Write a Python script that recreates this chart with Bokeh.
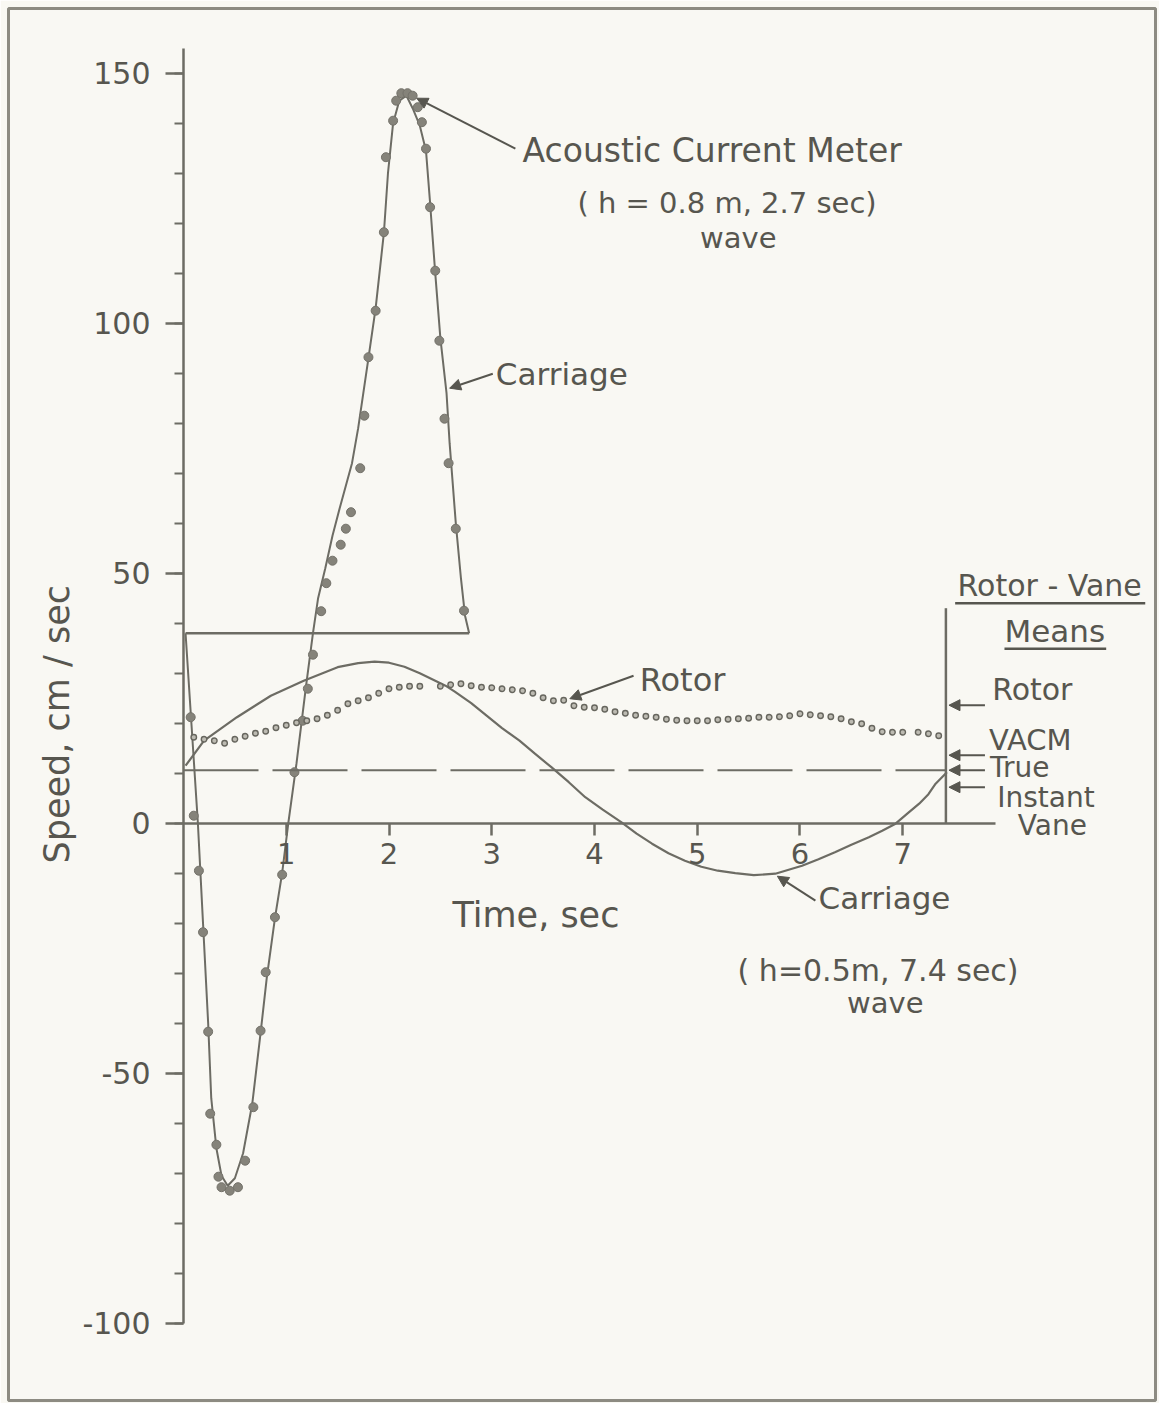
import numpy as np
from bokeh.plotting import figure
from bokeh.models import Range1d, LinearAxis, FixedTicker, Arrow, NormalHead, Label
from bokeh.embed import file_html
from bokeh.resources import INLINE

# ---------------- data ----------------
# Acoustic current meter samples, h = 0.8 m, 2.7 s wave (time s, speed cm/s)
acm_t = [0.07, 0.10, 0.15, 0.19, 0.24, 0.26, 0.32, 0.34, 0.37, 0.45, 0.53, 0.60,
         0.68, 0.75, 0.80, 0.89, 0.96, 1.08, 1.16, 1.21, 1.26, 1.34, 1.39, 1.45,
         1.53, 1.58, 1.63, 1.72, 1.76, 1.80, 1.87, 1.95, 1.97, 2.04, 2.07, 2.12,
         2.18, 2.23, 2.28, 2.32, 2.36, 2.40, 2.45, 2.49, 2.54, 2.58, 2.65, 2.73]
acm_v = [21.2, 1.5, -9.5, -21.8, -41.7, -58.1, -64.3, -70.7, -72.8, -73.5, -72.8, -67.5,
         -56.8, -41.5, -29.8, -18.8, -10.3, 10.2, 20.5, 26.9, 33.7, 42.4, 48.0, 52.5,
         55.7, 58.9, 62.2, 71.0, 81.5, 93.2, 102.5, 118.2, 133.2, 140.5, 144.5, 146.0,
         146.0, 145.5, 143.2, 140.2, 134.9, 123.2, 110.5, 96.5, 80.9, 72.0, 58.9, 42.5]

# Carriage speed, 2.7 s wave (solid curve)
car27_t = [0.02, 0.14, 0.19, 0.24, 0.27, 0.32, 0.37, 0.43, 0.50, 0.58, 0.67, 0.75,
           0.81, 0.89, 0.96, 1.02, 1.10, 1.19, 1.26, 1.31, 1.38, 1.45, 1.52, 1.58,
           1.64, 1.70, 1.75, 1.80, 1.87, 1.95, 1.99, 2.04, 2.10, 2.17, 2.23, 2.30,
           2.36, 2.40, 2.45, 2.50, 2.56, 2.59, 2.62, 2.65, 2.70, 2.74, 2.78]
car27_v = [38, 0, -20, -40, -55, -65, -70.5, -72.5, -71, -66, -56, -42,
           -31, -19, -10, 0, 12, 27, 38, 45, 51, 57.5, 63, 67.5,
           72, 79, 86, 93, 103, 118, 130, 140, 144.5, 145.5, 143, 139.5,
           134.5, 124, 110, 97, 86, 76, 68, 60, 49, 41.5, 38]
car27_base = 38.0
car27_end = 2.78

# Carriage speed, h = 0.5 m, 7.4 s wave (solid curve)
car74_t = [0.02, 0.20, 0.52, 0.85, 1.17, 1.50, 1.70, 1.86, 2.00, 2.15, 2.30, 2.45,
           2.55, 2.64, 2.80, 2.95, 3.10, 3.27, 3.42, 3.58, 3.75, 3.91, 4.08, 4.26,
           4.41, 4.56, 4.72, 4.88, 5.04, 5.20, 5.37, 5.55, 5.76, 6.02, 6.18, 6.34,
           6.50, 6.67, 6.80, 6.93, 7.05, 7.16, 7.25, 7.32, 7.43]
car74_v = [11.5, 16.5, 21.2, 25.5, 28.5, 31.2, 32.0, 32.3, 32.1, 31.3, 30.0, 28.5,
           27.5, 26.3, 24.0, 21.5, 19.0, 16.5, 13.9, 11.2, 8.2, 5.2, 2.7, 0.2,
           -2.1, -4.1, -6.0, -7.5, -8.7, -9.5, -10.0, -10.4, -10.1, -8.5, -7.2, -5.8,
           -4.3, -2.8, -1.5, -0.1, 2.0, 3.9, 5.8, 7.9, 10.2]

# Rotor speed (dotted)
rotor_t = [0.1, 0.2, 0.3, 0.4, 0.5, 0.6, 0.7, 0.8, 0.9, 1.0, 1.1, 1.2, 1.3, 1.4,
           1.5, 1.6, 1.7, 1.8, 1.9, 2.0, 2.1, 2.2, 2.3, 2.5, 2.6, 2.7, 2.8, 2.9,
           3.0, 3.1, 3.2, 3.3, 3.4, 3.5, 3.6, 3.7, 3.8, 3.9, 4.0, 4.1, 4.2, 4.3,
           4.4, 4.5, 4.6, 4.7, 4.8, 4.9, 5.0, 5.1, 5.2, 5.3, 5.4, 5.5, 5.6, 5.7,
           5.8, 5.9, 6.0, 6.1, 6.2, 6.3, 6.4, 6.5, 6.6, 6.7, 6.8, 6.9, 7.0, 7.15,
           7.25, 7.35]
rotor_v = [17.2, 16.8, 16.5, 16.0, 16.8, 17.4, 18.0, 18.4, 19.1, 19.6, 20.1, 20.5,
           20.9, 21.6, 22.6, 23.9, 24.5, 25.1, 26.0, 26.9, 27.2, 27.4, 27.4, 27.4,
           27.7, 27.9, 27.5, 27.2, 27.1, 26.9, 26.7, 26.5, 26.0, 25.1, 24.5, 24.6,
           23.5, 23.2, 23.1, 22.8, 22.3, 22.0, 21.6, 21.4, 21.2, 20.8, 20.6, 20.5,
           20.5, 20.5, 20.7, 20.8, 20.9, 21.0, 21.2, 21.2, 21.3, 21.5, 21.9, 21.7,
           21.5, 21.3, 20.9, 20.3, 19.9, 19.0, 18.3, 18.2, 18.2, 18.2, 17.9, 17.5]

# Rotor-vane means (7.4 s wave)
means_names = ["Rotor", "VACM", "True", "Instant Vane"]
means_v = [23.6, 13.6, 10.6, 7.2]
means_t = 7.42
means_top = 43.0

# axis ticks
y_ticks = [-100, -50, 0, 50, 100, 150]
y_minor = list(range(-100, 151, 10))
y_tick_labels = {-100: "-100", -50: "-50", 0: "0", 50: "50", 100: "100", 150: "150"}
x_ticks = [1, 2, 3, 4, 5, 6, 7]

# ---------------- styling ----------------
BG = "#f9f8f3"
INK = "#57564f"
LINE = "#6d6c64"
DOT = "#85837a"
FONT = "DejaVu Sans"
DY = 2.6      # label baseline correction (data units)

p = figure(width=1159, height=1403, output_backend="svg", toolbar_location=None,
           x_axis_type=None, y_axis_type=None,
           x_range=Range1d(-1.7032, 9.4599), y_range=Range1d(-115.46, 162.94),
           min_border_left=8, min_border_right=4, min_border_top=8, min_border_bottom=3)
p.background_fill_color = BG
p.border_fill_color = BG
p.outline_line_color = "#8d8b82"
p.outline_line_width = 3

# axes placed inside the frame at the data origin
yax = LinearAxis(fixed_location=0,
                 ticker=FixedTicker(ticks=y_ticks, minor_ticks=y_minor),
                 bounds=(-100, 155))
yax.major_label_overrides = y_tick_labels
yax.axis_line_color = LINE
yax.axis_line_width = 2.5
yax.major_tick_line_color = LINE
yax.major_tick_line_width = 2.5
yax.major_tick_out = 18
yax.major_tick_in = 0
yax.minor_tick_line_color = LINE
yax.minor_tick_line_width = 2
yax.minor_tick_out = 9
yax.minor_tick_in = 0
yax.major_label_text_font = FONT
yax.major_label_text_font_size = "30px"
yax.major_label_text_color = INK
yax.major_label_standoff = 15
p.add_layout(yax, "left")

xax = LinearAxis(fixed_location=0, ticker=FixedTicker(ticks=x_ticks, minor_ticks=[]),
                 bounds=(0, 7.9))
xax.axis_line_color = LINE
xax.axis_line_width = 2.5
xax.major_tick_line_color = LINE
xax.major_tick_line_width = 2.5
xax.major_tick_out = 12
xax.major_tick_in = 0
xax.minor_tick_out = 0
xax.minor_tick_in = 0
xax.major_label_text_font = FONT
xax.major_label_text_font_size = "29px"
xax.major_label_text_color = INK
xax.major_label_standoff = 8
p.add_layout(xax, "below")

# 2.7 s wave: baseline and carriage curve
p.line([0.02, car27_end], [car27_base, car27_base], line_color=LINE, line_width=2.5)
p.line(car27_t, car27_v, line_color=LINE, line_width=2)
p.scatter(acm_t, acm_v, size=9, fill_color=DOT, line_color="#74726a", line_width=1)

# 7.4 s wave: carriage curve, rotor dots, true mean dashed
p.line(car74_t, car74_v, line_color=LINE, line_width=2.2)
p.scatter(rotor_t, rotor_v, size=5.5, fill_color="#bdbbb2", line_color="#67665e", line_width=1.4)
p.line([0.0, means_t], [means_v[2], means_v[2]], line_color=LINE, line_width=2,
       line_dash="75 14")

# means column
p.segment(x0=[means_t], y0=[0], x1=[means_t], y1=[means_top], line_color=LINE, line_width=2.5)
for mv in means_v:
    p.add_layout(Arrow(end=NormalHead(size=11, fill_color=INK, line_color=INK, line_width=1),
                       x_start=7.80, y_start=mv, x_end=means_t + 0.03, y_end=mv,
                       line_color=INK, line_width=2))

# annotation arrows
def arrow(x0, y0, x1, y1):
    p.add_layout(Arrow(end=NormalHead(size=11, fill_color=INK, line_color=INK, line_width=1),
                       x_start=x0, y_start=y0, x_end=x1, y_end=y1,
                       line_color=INK, line_width=2))

arrow(3.23, 134.9, 2.27, 145.0)   # Acoustic Current Meter
arrow(3.01, 89.9, 2.59, 87.0)     # Carriage (2.7 s)
arrow(4.38, 29.5, 3.76, 24.9)     # Rotor
arrow(6.15, -15.5, 5.78, -10.6)   # Carriage (7.4 s)

# texts
def label(x, y, text, size, align="left"):
    p.add_layout(Label(x=x, y=y + DY, text=text, text_font=FONT, text_font_size=f"{size}px",
                       text_color=INK, text_align=align, text_baseline="alphabetic"))

label(3.30, 131.9, "Acoustic  Current  Meter", 33)
label(5.29, 121.5, "( h = 0.8 m, 2.7 sec)", 29, "center")
label(5.40, 114.5, "wave", 29, "center")
label(3.04, 87.3, "Carriage", 31)
label(4.44, 26.1, "Rotor", 32)
label(6.18, -17.5, "Carriage", 31)
label(6.76, -32.1, "( h=0.5m, 7.4 sec)", 30, "center")
label(6.83, -38.5, "wave", 29, "center")
label(3.43, -20.9, "Time, sec", 35, "center")
p.add_layout(Label(x=-1.235, y=20.9, text="Speed,  cm / sec", text_font=FONT,
                   text_font_size="35px", text_color=INK, text_align="center",
                   text_baseline="alphabetic", angle=np.pi / 2, angle_units="rad"))

label(8.43, 44.9, "Rotor - Vane", 30, "center")
label(8.48, 35.9, "Means", 31, "center")
label(7.87, 24.1, means_names[0], 30)
label(7.84, 14.0, means_names[1], 29)
label(7.85, 8.5, means_names[2], 28)
label(7.92, 2.5, "Instant", 28)
label(8.12, -3.1, "Vane", 28)

# underlines of the means heading
p.segment(x0=[7.51, 7.99], y0=[44.0, 34.9], x1=[9.36, 8.98], y1=[44.0, 34.9],
          line_color=INK, line_width=2.5)

open("out.html", "w").write(file_html(p, INLINE))
